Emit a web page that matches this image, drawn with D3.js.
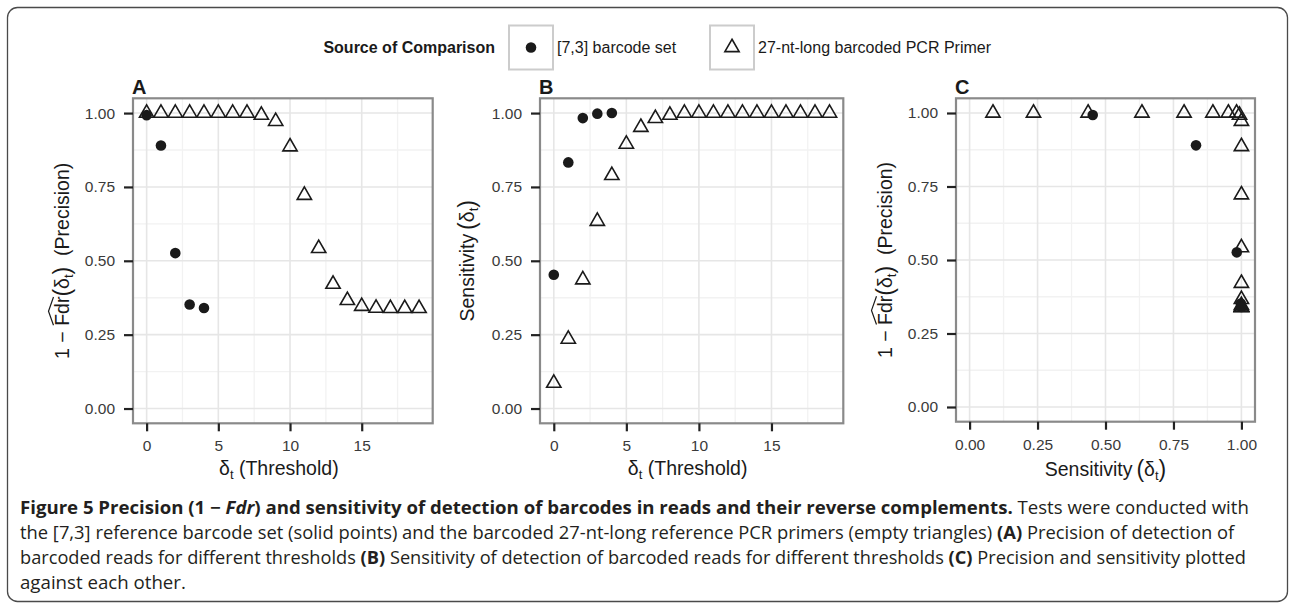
<!DOCTYPE html>
<html><head><meta charset="utf-8">
<script src="https://cdn.jsdelivr.net/npm/d3@7/dist/d3.min.js"></script>
<style>body{margin:0;background:#fff}svg{display:block}</style>
</head><body>
<svg id="chart" width="1294" height="612"></svg>
<script>
// ---------------- data ----------------
const thresholds = [0,1,2,3,4,5,6,7,8,9,10,11,12,13,14,15,16,17,18,19];
const barcodeThresholds = [0,1,2,3,4];
const precisionBarcode = [0.993, 0.890, 0.526, 0.352, 0.340];
const sensitivityBarcode = [0.453, 0.833, 0.983, 0.998, 1.000];
const precisionPrimer = [1.000,1.000,1.000,1.000,1.000,1.000,1.000,1.000,0.993,0.972,
                         0.886,0.722,0.542,0.421,0.366,0.346,0.340,0.339,0.339,0.339];
const sensitivityPrimer = [0.086,0.235,0.436,0.634,0.789,0.895,0.952,0.982,0.993,1.000,
                           1.000,1.000,1.000,1.000,1.000,1.000,1.000,1.000,1.000,1.000];
const thresholdTicks = [0,5,10,15];
const thresholdMinor = [2.5,7.5,12.5,17.5];
const unitTicks = [0,0.25,0.5,0.75,1];
const unitMinor = [0.125,0.375,0.625,0.875];
const seriesNames = ["[7,3] barcode set", "27-nt-long barcoded PCR Primer"];
const legendTitle = "Source of Comparison";

// ---------------- setup ----------------
const svg = d3.select("#chart");
const FONT = "'Liberation Sans', Arial, Helvetica, sans-serif";
const CAPFONT = "'Open Sans', 'Noto Sans', sans-serif";
const INK = "#1a1a1a";

svg.append("rect").attr("x",7.5).attr("y",7.5).attr("width",1280).attr("height",594)
  .attr("rx",10).attr("fill","none").attr("stroke","#4a4a4a").attr("stroke-width",1.3);

const R = 5.3;
function triPath(r){ const a=1.555*r, xc=1.347*r;
  return `M0,${-a}L${xc},${a/2}L${-xc},${a/2}Z`; }

function rich(parent, x, y, segs, anchor, size){
  const t = parent.append("text").attr("x",x).attr("y",y)
    .attr("text-anchor",anchor||"start").attr("font-family",FONT)
    .attr("font-size",size).attr("fill",INK);
  segs.forEach(s=>{
    const ts = t.append("tspan").text(s.t);
    if(s.size) ts.attr("font-size",s.size);
    if(s.dy) ts.attr("dy",s.dy);
    if(s.w) ts.attr("font-weight",s.w);
    if(s.i) ts.attr("font-style","italic");
  });
  return t;
}

const panels = [
  {label:"A", x0:133, x1:432.7, y0:98.3, y1:423.3, xDom:[-0.95,19.95],
   xt:thresholdTicks, xm:thresholdMinor, xf:d3.format("d"),
   circ: barcodeThresholds.map((d,i)=>[d, precisionBarcode[i]]),
   tri: thresholds.map((d,i)=>[d, precisionPrimer[i]]),
   ytitle:"prec", ytx:62, xtitle:"thr"},
  {label:"B", x0:540, x1:843.3, y0:98.3, y1:423.3, xDom:[-0.95,19.95],
   xt:thresholdTicks, xm:thresholdMinor, xf:d3.format("d"),
   circ: barcodeThresholds.map((d,i)=>[d, sensitivityBarcode[i]]),
   tri: thresholds.map((d,i)=>[d, sensitivityPrimer[i]]),
   ytitle:"sens", ytx:467, xtitle:"thr"},
  {label:"C", x0:956, x1:1255, y0:98.3, y1:421.7, xDom:[-0.05,1.05],
   xt:unitTicks, xm:unitMinor, xf:d3.format(".2f"),
   circ: sensitivityBarcode.map((d,i)=>[d, precisionBarcode[i]]),
   tri: sensitivityPrimer.map((d,i)=>[d, precisionPrimer[i]]),
   ytitle:"prec", ytx:885, xtitle:"sens"}
];

panels.forEach(p=>{
  const x = d3.scaleLinear().domain(p.xDom).range([p.x0,p.x1]);
  const y = d3.scaleLinear().domain([-0.05,1.05]).range([p.y1,p.y0]);
  const g = svg.append("g");
  // grid
  const grid = g.append("g");
  grid.selectAll(".vm").data(p.xm).join("line").attr("x1",d=>x(d)).attr("x2",d=>x(d))
    .attr("y1",p.y0).attr("y2",p.y1).attr("stroke","#f2f2f2").attr("stroke-width",1.3);
  grid.selectAll(".hm").data(unitMinor).join("line").attr("y1",d=>y(d)).attr("y2",d=>y(d))
    .attr("x1",p.x0).attr("x2",p.x1).attr("stroke","#f2f2f2").attr("stroke-width",1.3);
  grid.selectAll(".vM").data(p.xt).join("line").attr("x1",d=>x(d)).attr("x2",d=>x(d))
    .attr("y1",p.y0).attr("y2",p.y1).attr("stroke","#e6e6e6").attr("stroke-width",1.6);
  grid.selectAll(".hM").data(unitTicks).join("line").attr("y1",d=>y(d)).attr("y2",d=>y(d))
    .attr("x1",p.x0).attr("x2",p.x1).attr("stroke","#e6e6e6").attr("stroke-width",1.6);
  // points
  g.append("g").selectAll("path").data(p.tri).join("path")
    .attr("d",triPath(R)).attr("transform",d=>`translate(${x(d[0])},${y(d[1])})`)
    .attr("fill","none").attr("stroke",INK).attr("stroke-width",1.6).attr("stroke-linejoin","miter");
  g.append("g").selectAll("circle").data(p.circ).join("circle")
    .attr("cx",d=>x(d[0])).attr("cy",d=>y(d[1])).attr("r",R).attr("fill",INK);
  // border
  g.append("rect").attr("x",p.x0).attr("y",p.y0).attr("width",p.x1-p.x0).attr("height",p.y1-p.y0)
    .attr("fill","none").attr("stroke","#8a8a8a").attr("stroke-width",2.2);
  // axes
  const ax = g.append("g").attr("transform",`translate(0,${p.y1})`)
    .call(d3.axisBottom(x).tickValues(p.xt).tickFormat(p.xf).tickSize(8).tickPadding(9));
  const ay = g.append("g").attr("transform",`translate(${p.x0},0)`)
    .call(d3.axisLeft(y).tickValues(unitTicks).tickFormat(d3.format(".2f")).tickSize(9).tickPadding(9));
  [ax,ay].forEach(a=>{
    a.select(".domain").remove();
    a.selectAll(".tick line").attr("stroke","#222").attr("stroke-width",2.2);
    a.selectAll(".tick text").attr("font-family",FONT).attr("font-size",15.5).attr("fill","#3a3a3a");
  });
  // panel label
  g.append("text").attr("x",p.x0-1).attr("y",93.5).text(p.label)
    .attr("font-family",FONT).attr("font-weight","bold").attr("font-size",20).attr("fill",INK);
  // x title
  const cx = (p.x0+p.x1)/2;
  if(p.xtitle==="thr"){
    rich(g, cx-4, 475, [{t:"δ"},{t:"t",size:13,dy:4},{t:"\u00A0(Threshold)",dy:-4}], "middle", 19.5);
  } else {
    rich(g, cx, 476, [{t:"Sensitivity\u2009"},{t:"(",size:23,dy:1},{t:"δ",dy:-1},{t:"t",size:13,dy:4},{t:")",size:23,dy:-3}], "middle", 19.5);
  }
  // y title
  const yg = g.append("g").attr("transform",`translate(${p.ytx+7},${(p.y0+p.y1)/2}) rotate(-90)`);
  if(p.ytitle==="prec"){
    const t = rich(yg, 0, 0, [{t:"1\u00A0−\u00A0"},{t:"Fdr"},{t:"(",size:23,dy:1},{t:"δ",dy:-1},{t:"t",size:13,dy:4},{t:")",size:23,dy:-3},{t:"\u00A0\u00A0(Precision)",dy:-1}], "middle", 19.5);
    const n = t.node();
    const eF = n.getExtentOfChar(4), eR = n.getExtentOfChar(6);
    const xa = eF.x+0.5, xb = eR.x+eR.width-0.5;
    yg.append("path").attr("d",`M${xa},-15.5L${(xa+xb)/2},-20.5L${xb},-15.5`)
      .attr("fill","none").attr("stroke",INK).attr("stroke-width",1.2);
  } else {
    rich(yg, 0, 0, [{t:"Sensitivity\u2009"},{t:"(",size:23,dy:1},{t:"δ",dy:-1},{t:"t",size:13,dy:4},{t:")",size:23,dy:-3}], "middle", 19.5);
  }
});

// ---------------- legend ----------------
const lg = svg.append("g");
const ly = 47.5;
lg.append("text").attr("x",495).attr("y",ly+5.5).attr("text-anchor","end").text(legendTitle)
  .attr("font-family",FONT).attr("font-weight","bold").attr("font-size",16).attr("fill",INK);
const keys = [{bx:509, shape:"circle", label:seriesNames[0]},{bx:710, shape:"tri", label:seriesNames[1]}];
keys.forEach(k=>{
  lg.append("rect").attr("x",k.bx).attr("y",ly-22).attr("width",44).attr("height",44)
    .attr("fill","#fff").attr("stroke","#cccccc").attr("stroke-width",2);
  if(k.shape==="circle") lg.append("circle").attr("cx",k.bx+22).attr("cy",ly).attr("r",R).attr("fill",INK);
  else lg.append("path").attr("d",triPath(R)).attr("transform",`translate(${k.bx+22},${ly})`)
    .attr("fill","none").attr("stroke",INK).attr("stroke-width",1.6);
  lg.append("text").attr("x",k.bx+48).attr("y",ly+5.5).text(k.label)
    .attr("font-family",FONT).attr("font-size",16).attr("fill",INK);
});

// ---------------- caption ----------------
const capLines = [
  {y:514, w:1230, segs:[{t:"Figure 5 Precision (1 − ",w:"bold"},{t:"Fdr",w:"bold",i:true},
     {t:") and sensitivity of detection of barcodes in reads and their reverse complements.",w:"bold"},
     {t:" Tests were conducted with"}]},
  {y:539, w:1215, segs:[{t:"the [7,3] reference barcode set (solid points) and the barcoded 27-nt-long reference PCR primers (empty triangles) "},
     {t:"(A)",w:"bold"},{t:" Precision of detection of"}]},
  {y:564, w:1227, segs:[{t:"barcoded reads for different thresholds "},{t:"(B)",w:"bold"},
     {t:" Sensitivity of detection of barcoded reads for different thresholds "},{t:"(C)",w:"bold"},
     {t:" Precision and sensitivity plotted"}]},
  {y:589, w:166, segs:[{t:"against each other."}]}
];
capLines.forEach(l=>{
  const g = svg.append("g");
  const t = g.append("text").attr("x",0).attr("y",0).attr("font-family",CAPFONT)
    .attr("font-size",18).attr("fill","#231f20").attr("xml:space","preserve");
  l.segs.forEach(s=>{
    const ts = t.append("tspan").text(s.t);
    if(s.w) ts.attr("font-weight",s.w);
    if(s.i) ts.attr("font-style","italic");
  });
  const wNat = t.node().getComputedTextLength();
  g.attr("transform",`translate(20,${l.y}) scale(${l.w/wNat},1)`);
});
</script>
</body></html>
